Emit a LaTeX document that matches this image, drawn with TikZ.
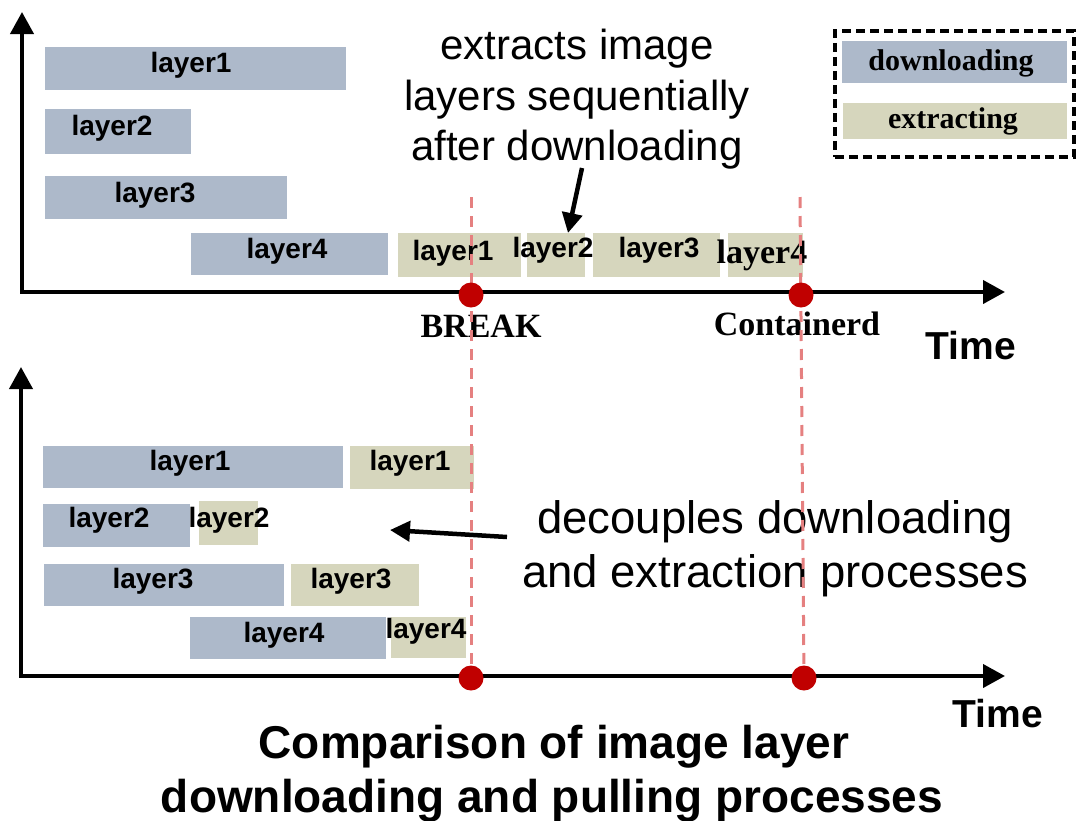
\documentclass[tikz,border=0pt]{standalone}
\usepackage{fontspec}
\setmainfont{Liberation Serif}
\setsansfont{Liberation Sans}
\usetikzlibrary{arrows.meta}

\definecolor{dlblue}{HTML}{ADB9CA}
\definecolor{exolive}{HTML}{D6D6BD}
\definecolor{dotred}{HTML}{C00000}
\definecolor{guidered}{HTML}{E58080}

\tikzset{
  dlbar/.style={fill=dlblue, draw=none, inner sep=0pt},
  exbar/.style={fill=exolive, draw=none, inner sep=0pt},
  barlabel/.style={font=\sffamily\bfseries\fontsize{28}{32}\selectfont, inner sep=0pt, anchor=base},
  seriflabel/.style={font=\rmfamily\bfseries\fontsize{34}{38}\selectfont, inner sep=0pt, anchor=base},
  legendlabel/.style={font=\rmfamily\bfseries\fontsize{30}{34}\selectfont, inner sep=0pt, anchor=base},
  timelabel/.style={font=\sffamily\bfseries\fontsize{39}{44}\selectfont, inner sep=0pt, anchor=base},
  notetext/.style={font=\sffamily\fontsize{42}{48}\selectfont, inner sep=0pt, anchor=base},
  notetextb/.style={font=\sffamily\fontsize{45.5}{52}\selectfont, inner sep=0pt, anchor=base},
  titletext/.style={font=\sffamily\bfseries\fontsize{46}{54}\selectfont, inner sep=0pt, anchor=base},
  axis/.style={line width=4pt, line join=miter,
    {Triangle[length=22pt,width=23pt]}-{Triangle[length=22pt,width=23pt]}},
  notearrow/.style={line width=4.5pt, -{Triangle[length=20pt,width=20pt]}},
  guide/.style={guidered, line width=3pt, dash pattern=on 11pt off 8pt},
  legendbox/.style={draw=black, line width=3.5pt, dash pattern=on 9pt off 5pt, fill=none},
  dot/.style={circle, fill=dotred, draw=none, minimum size=25pt, inner sep=0pt},
}

% bar node: name, style, left, top, right, bottom
\newcommand\layerbar[6]{%
  \node[#2, anchor=north west, minimum width={#5pt-#3pt}, minimum height={#6pt-#4pt}] (#1) at (#3,#4) {};}

\begin{document}
\begin{tikzpicture}[x=1pt, y=-1pt]
\useasboundingbox (0,0) rectangle (1079,820);

% ---------- upper chart: sequential extraction ----------
\coordinate (uy) at (22,12);
\coordinate (uo) at (22,292);
\coordinate (ux) at (1005,292);
\draw[axis] (uy) -- (uo) -- (ux);

\layerbar{ud1}{dlbar}{45}{47}{346}{90}
\layerbar{ud2}{dlbar}{45}{109}{191}{154}
\layerbar{ud3}{dlbar}{45}{176}{287}{219}
\layerbar{ud4}{dlbar}{191}{233}{388}{275}
\node[barlabel] (ud1l) at (191,72) {layer1};
\node[barlabel] (ud2l) at (112,135) {layer2};
\node[barlabel] (ud3l) at (155,202) {layer3};
\node[barlabel] (ud4l) at (287,258) {layer4};

\layerbar{ue1}{exbar}{398}{233}{521}{277}
\layerbar{ue2}{exbar}{527}{233}{585}{277}
\layerbar{ue3}{exbar}{593}{233}{720}{277}
\layerbar{ue4}{exbar}{728}{233}{803}{277}
\node[barlabel] (ue1l) at (453,260) {layer1};
\node[barlabel] (ue2l) at (553,257) {layer2};
\node[barlabel] (ue3l) at (659,257) {layer3};
\node[seriflabel] (ue4l) at (762,263) {layer4};

\node[seriflabel] (breaklbl) at (481,337) {BREAK};
\node[seriflabel] (ctrdlbl) at (797,335) {Containerd};
\node[timelabel] (utime) at (971,359) {Time};

\node[notetext] (un1) at (577,59) {extracts image};
\node[notetext] (un2) at (577,110) {layers sequentially};
\node[notetext] (un3) at (577,160) {after downloading};
\coordinate (uatail) at (582,168);
\coordinate (uahead) at (568,233);
\draw[notearrow] (uatail) -- (uahead);

% legend
\node[legendbox, anchor=north west, minimum width=239pt, minimum height=126pt, inner sep=0pt] (legend) at (833,29) {};
\layerbar{lgd}{dlbar}{842}{41}{1067}{83}
\layerbar{lge}{exbar}{843}{103}{1067}{139}
\node[legendlabel] (lgdl) at (951,70) {downloading};
\node[legendlabel] (lgel) at (953,128) {extracting};

% ---------- lower chart: decoupled extraction ----------
\coordinate (ly) at (21,367);
\coordinate (lo) at (21,676);
\coordinate (lx) at (1005,676);
\draw[axis] (ly) -- (lo) -- (lx);

\layerbar{ld1}{dlbar}{43}{446}{343}{488}
\layerbar{le1}{exbar}{350}{446}{474}{489}
\layerbar{ld2}{dlbar}{43}{504}{190}{547}
\layerbar{le2}{exbar}{199}{501}{258}{545}
\layerbar{ld3}{dlbar}{44}{564}{284}{606}
\layerbar{le3}{exbar}{291}{564}{419}{606}
\layerbar{ld4}{dlbar}{190}{617}{386}{659}
\layerbar{le4}{exbar}{391}{617}{466}{658}
\node[barlabel] (ld1l) at (190,470) {layer1};
\node[barlabel] (le1l) at (410,470) {layer1};
\node[barlabel] (ld2l) at (109,527) {layer2};
\node[barlabel] (le2l) at (229,527) {layer2};
\node[barlabel] (ld3l) at (153,588) {layer3};
\node[barlabel] (le3l) at (351,588) {layer3};
\node[barlabel] (ld4l) at (284,642) {layer4};
\node[barlabel] (le4l) at (426,638) {layer4};

\node[notetextb] (ln1) at (775,533) {decouples downloading};
\node[notetextb] (ln2) at (775,587) {and extraction processes};
\coordinate (latail) at (507,537);
\coordinate (lahead) at (390,530);
\draw[notearrow] (latail) -- (lahead);

\node[timelabel] (ltime) at (998,727) {Time};

% ---------- time markers: guide lines first, dots on top ----------
\coordinate (g1) at (471,197);
\coordinate (g2) at (800,197);
\coordinate (g1end) at (471,678);
\coordinate (g2end) at (804,678);
\draw[guide] (g1) -- (g1end);
\draw[guide] (g2) -- (g2end);
\node[dot] (ubreak) at (471,295) {};
\node[dot] (uctrd) at (801,295) {};
\node[dot] (lbreak) at (g1end) {};
\node[dot] (lctrd) at (g2end) {};

% ---------- caption ----------
\node[titletext] (title1) at (554,758) {Comparison of image layer};
\node[titletext] (title2) at (552,812) {downloading and pulling processes};
\end{tikzpicture}
\end{document}
